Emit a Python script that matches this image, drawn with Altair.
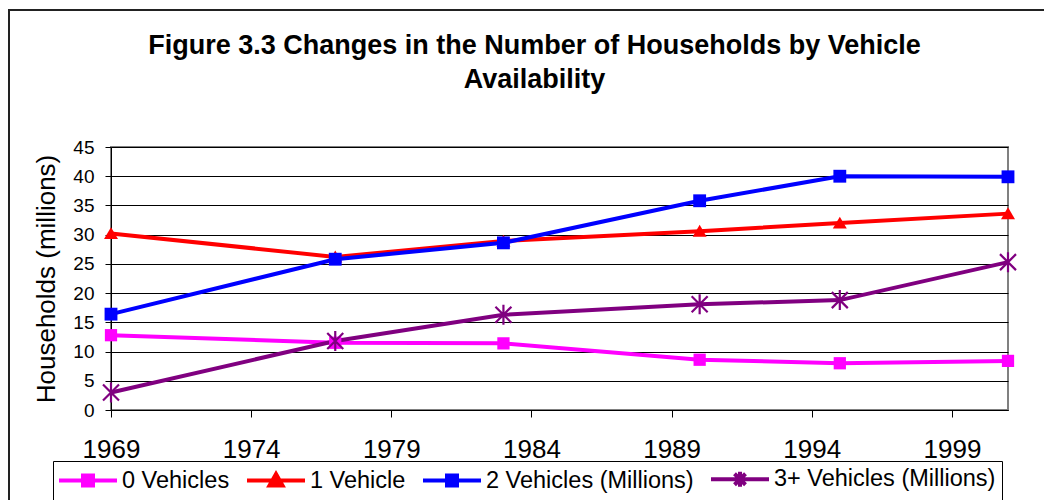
import altair as alt
import pandas as pd

# ---- data ----
years = [1969, 1977, 1983, 1990, 1995, 2001]
series = ["0 Vehicles", "1 Vehicle", "2 Vehicles (Millions)", "3+ Vehicles (Millions)"]
veh0 = [12.8, 11.5, 11.4, 8.6, 8.0, 8.4]
veh1 = [30.2, 26.2, 28.9, 30.6, 32.0, 33.6]
veh2 = [16.4, 25.8, 28.6, 35.8, 40.0, 39.9]
veh3 = [3.0, 11.8, 16.3, 18.1, 18.8, 25.3]
x_ticks = [1969, 1974, 1979, 1984, 1989, 1994, 1999]
y_ticks = [0, 5, 10, 15, 20, 25, 30, 35, 40, 45]

# ---- styles ----
colors = ["#FF00FF", "#FF0000", "#0000FF", "#800080"]
marker_shapes = [
    "square",
    "M0,-0.9L1,0.8L-1,0.8Z",
    "square",
    "M-1,-1L1,1M-1,1L1,-1M0,-1.25L0,1.25",
]
marker_sizes = [150, 196, 165, 256]
marker_filled = [True, True, True, False]
legend_shapes = [
    "M-2.9,0L2.9,0M-0.5,-0.5L0.5,-0.5L0.5,0.5L-0.5,0.5Z",
    "M-2.9,0L2.9,0M0,-0.65L0.65,0.5L-0.65,0.5Z",
    "M-2.9,0L2.9,0M-0.5,-0.5L0.5,-0.5L0.5,0.5L-0.5,0.5Z",
    "M-2.9,0L2.9,0M-0.55,-0.55L0.55,0.55M-0.55,0.55L0.55,-0.55M0,-0.75L0,0.75",
]

rows = []
for name, vals in zip(series, [veh0, veh1, veh2, veh3]):
    for yr, v in zip(years, vals):
        rows.append({"year": yr, "value": v, "series": name})
df = pd.DataFrame(rows)

FONT = "Liberation Sans"

x_enc = alt.X(
    "year:Q",
    scale=alt.Scale(domain=[1969, 2001], nice=False, zero=False),
    axis=alt.Axis(
        values=x_ticks, format="d", title=None, grid=False,
        tickSize=7, tickColor="black", domainColor="black",
        labelFontSize=26, labelFont=FONT, labelColor="black",
        labelPadding=19, labelFlush=False, labelOverlap=False,
    ),
)
y_enc = alt.Y(
    "value:Q",
    scale=alt.Scale(domain=[0, 45], nice=False, zero=True),
    axis=alt.Axis(
        values=y_ticks, title="Households (millions)",
        titleFont=FONT, titleFontSize=26, titleFontWeight="normal",
        titleColor="black", titlePadding=13,
        labelFontSize=19, labelFont=FONT, labelColor="black", labelPadding=11,
        labelOverlap=False,
        tickSize=6, tickColor="black", domainColor="black",
        grid=True, gridColor="black", gridOpacity=1, gridWidth=1,
    ),
)

base = alt.Chart(df)

frame = alt.Chart(pd.DataFrame({"f": [0]})).mark_rect(
    filled=False, stroke="#222222", strokeWidth=2
).encode(
    x=alt.value(-102), x2=alt.value(1100), y=alt.value(-137), y2=alt.value(700)
)

line_layers = []
point_layers = []
for name, col, shp, sz, fl in zip(series, colors, marker_shapes, marker_sizes, marker_filled):
    sub = base.transform_filter(alt.datum.series == name)
    line_layers.append(
        sub.mark_line(color=col, strokeWidth=4).encode(x=x_enc, y=y_enc)
    )
    point_layers.append(
        sub.mark_point(shape=shp, size=sz, filled=fl, color=col, opacity=1,
                       strokeWidth=2.2)
        .encode(x=x_enc, y=y_enc)
    )

leg = alt.Legend(
    title=None, orient="none", legendX=-58, legendY=314, direction="horizontal",
    padding=6, strokeColor="black", fillColor="white",
    labelFont=FONT, labelFontSize=23.5, labelColor="black", labelLimit=500,
    symbolSize=400, symbolStrokeWidth=4, symbolOffset=17, labelOffset=22,
    columnPadding=9, symbolOpacity=1,
)
legend_layer = base.mark_point(
    filled=True, opacity=0, strokeWidth=4
).encode(
    x=x_enc,
    y=y_enc,
    shape=alt.Shape("series:N", scale=alt.Scale(domain=series, range=legend_shapes), legend=leg),
    fill=alt.Fill("series:N", scale=alt.Scale(domain=series, range=colors), legend=leg),
    stroke=alt.Stroke("series:N", scale=alt.Scale(domain=series, range=colors), legend=leg),
)

chart = alt.layer(frame, *line_layers, *point_layers, legend_layer).properties(
    width=897,
    height=263,
    autosize="none",
    padding={"left": 103, "top": 139, "right": 36, "bottom": 90},
    title=alt.TitleParams(
        text=["Figure 3.3  Changes in the Number of Households by Vehicle", "Availability"],
        font=FONT, fontSize=27, fontWeight="bold", color="black",
        anchor="middle", frame="group", dx=-25, offset=-85, lineHeight=34,
    ),
).configure(font=FONT).configure_view(stroke="#808080", strokeWidth=2)

chart.save("out.html", embed_options={"renderer": "svg", "actions": False})
